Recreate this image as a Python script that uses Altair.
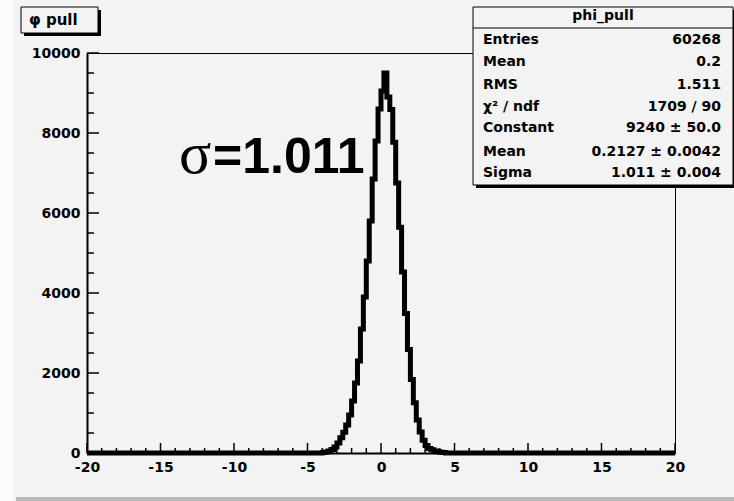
import altair as alt
import pandas as pd

# ---------------- data ----------------
x_min, x_max, bin_width = -20.0, 20.0, 0.2          # 200 bins
zeros_left = [0] * 80                                # bins -20.0 .. -4.0
peak_counts = [10, 25, 50, 90, 150, 250, 380, 520, 700, 950, 1300, 1750, 2300,
               3100, 3900, 4800, 5800, 6850, 7800, 8600, 9050, 9500, 8900, 8585,
               7768, 6753, 5641, 4527, 3490, 2585, 1840, 1259, 827, 522, 317, 185,
               110, 80, 50, 30, 20, 10]              # bins -4.0 .. 4.4
zeros_right = [0] * 78                               # bins 4.4 .. 20.0
counts = zeros_left + peak_counts + zeros_right

x_major = [-20, -15, -10, -5, 0, 5, 10, 15, 20]
x_minor = [v for v in range(-19, 20) if v % 5 != 0]
y_major = [0, 2000, 4000, 6000, 8000, 10000]
y_minor = [v for v in range(500, 10000, 500) if v % 2000 != 0]

hist_title = "phi_pull"
pad_title = "\u03c6 pull"
stat_labels = ["Entries", "Mean", "RMS", "\u03c7\u00b2 / ndf", "Constant", "Mean", "Sigma"]
stat_values = ["60268", "0.2", "1.511", "1709 / 90", "9240 \u00b1 50.0",
               "0.2127 \u00b1 0.0042", "1.011 \u00b1 0.004"]
sigma_symbol = "\u03c3"
sigma_text = "=1.011"

# ---------------- layout ----------------
W, H = 588, 400
PL, PT = 87, 53
BG = "#f3f3f3"
FONT = "DejaVu Sans"

n = len(counts)
hist = pd.DataFrame({
    "x": [round(x_min + bin_width * i, 4) for i in range(n + 1)],
    "y": counts + [counts[-1]],
})

one = pd.DataFrame({"a": [0]})

xscale = alt.Scale(domain=[x_min, x_max], nice=False, zero=False)
yscale = alt.Scale(domain=[0, 10000], nice=False)

x_axis = alt.Axis(values=x_major, ticks=False, grid=False, labelExpr="datum.value",
                  labelFont=FONT, labelFontWeight="bold", labelFontSize=14,
                  labelColor="black", labelPadding=7, labelFlush=False,
                  labelOverlap=False, domainColor="black", domainWidth=2)
y_axis = alt.Axis(values=y_major, ticks=False, grid=False, labelExpr="datum.value",
                  labelFont=FONT, labelFontWeight="bold", labelFontSize=14,
                  labelColor="black", labelPadding=7, labelOverlap=False,
                  labelFlush=False, domainColor="black", domainWidth=2)

line = alt.Chart(hist).mark_line(
    interpolate="step-after", color="black", strokeWidth=5, strokeJoin="miter"
).encode(
    x=alt.X("x:Q", scale=xscale, title=None, axis=x_axis),
    y=alt.Y("y:Q", scale=yscale, title=None, axis=y_axis),
)

def xticks(vals, length):
    return alt.Chart(pd.DataFrame({"x": vals})).mark_rule(color="black", strokeWidth=1.5).encode(
        x=alt.X("x:Q", scale=xscale, title=None, axis=x_axis),
        y=alt.value(H), y2=alt.value(H - length))

def yticks(vals, length):
    return alt.Chart(pd.DataFrame({"y": vals})).mark_rule(color="black", strokeWidth=1.5).encode(
        y=alt.Y("y:Q", scale=yscale, title=None, axis=y_axis),
        x=alt.value(0), x2=alt.value(length))

def rect(x1, y1, x2, y2, fill, stroke=None, sw=0):
    kw = dict(fill=fill)
    if stroke:
        kw.update(stroke=stroke, strokeWidth=sw)
    return alt.Chart(one).mark_rect(**kw).encode(
        x=alt.value(x1 - PL), x2=alt.value(x2 - PL),
        y=alt.value(y1 - PT), y2=alt.value(y2 - PT))

def hline(x1, x2, y, sw=1):
    return alt.Chart(one).mark_rule(color="black", strokeWidth=sw).encode(
        x=alt.value(x1 - PL), x2=alt.value(x2 - PL), y=alt.value(y - PT))

def text(s, x, y, size, align="left", baseline="middle", font=FONT, weight="bold"):
    return alt.Chart(one).mark_text(
        text=s, align=align, baseline=baseline, font=font, fontWeight=weight,
        fontSize=size, color="black"
    ).encode(x=alt.value(x - PL), y=alt.value(y - PT))

# canvas bevel
bevel_left = rect(0, 0, 14, 501, "#fbfbfb")
bevel_bottom = rect(16, 497, 734, 501, "#b9b9b9")

# title pad
title_shadow = rect(24, 10, 101, 36, "black")
title_box = rect(21, 7, 98, 33, BG, "black", 1)
title_txt = text(pad_title, 29, 20, 15)

# stats box
stats_shadow = rect(476, 10, 737, 188, "black")
stats_box = rect(473, 7, 733, 185, BG, "black", 1)
stats_sep = hline(473, 733, 28, 1)
stats_title = text(hist_title, 603, 16, 14, align="center")

row_y = [40, 62, 85, 107, 128, 152, 173]
stats_rows = []
for lab, val, ry in zip(stat_labels, stat_values, row_y):
    stats_rows.append(text(lab, 483, ry, 14))
    stats_rows.append(text(val, 721, ry, 14, align="right"))

sig1 = text(sigma_symbol, 179, 173, 60, baseline="alphabetic", font="Liberation Serif", weight="normal")
sig2 = text(sigma_text, 213, 173, 50, baseline="alphabetic", font="Liberation Sans", weight="bold")

chart = alt.layer(
    line,
    bevel_left, bevel_bottom,
    xticks(x_major, 10), xticks(x_minor, 5),
    yticks(y_major, 12), yticks(y_minor, 7),
    sig1, sig2,
    title_shadow, title_box, title_txt,
    stats_shadow, stats_box, stats_sep, stats_title, *stats_rows,
).properties(
    width=W, height=H,
    autosize=alt.AutoSizeParams(type="none"),
    padding={"left": PL, "top": PT, "right": 734 - PL - W, "bottom": 501 - PT - H},
    background=BG,
).configure_view(stroke="black", strokeWidth=1, fill=BG)

chart.save("out.html", embed_options={"renderer": "svg", "actions": False})
